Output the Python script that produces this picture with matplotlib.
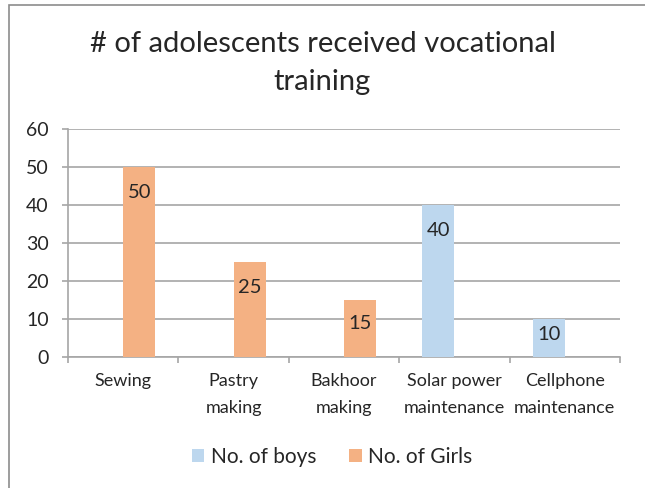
import matplotlib.pyplot as plt
import numpy as np
from matplotlib.patches import Rectangle

plt.rcParams['font.family'] = ['Lato', 'DejaVu Sans']

categories = ["Sewing", "Pastry\nmaking", "Bakhoor\nmaking",
              "Solar power\nmaintenance", "Cellphone\nmaintenance"]
boys = [0, 0, 0, 40, 10]
girls = [50, 25, 15, 0, 0]
series_names = ["No. of boys", "No. of Girls"]

boy_color = "#BDD7EE"
girl_color = "#F4B183"
grid_color = "#A6A6A6"
text_color = "#262626"

fig = plt.figure(figsize=(6.45, 4.88), dpi=100)
ax = fig.add_axes([0.1054, 0.2684, 0.8558, 0.4672])

x = np.arange(len(categories))
w = 0.29
bars_b = ax.bar(x - w / 2, boys, w, color=boy_color, zorder=3, label=series_names[0])
bars_g = ax.bar(x + w / 2, girls, w, color=girl_color, zorder=3, label=series_names[1])

# value labels just inside the top of each non-empty bar
for bars in (bars_b, bars_g):
    for b in bars:
        v = b.get_height()
        if v == 0:
            continue
        drop = min(6.8, v * 0.42)
        ax.text(b.get_x() + b.get_width() / 2, v - drop, f"{v:g}",
                ha="center", va="center", fontsize=14.5, color=text_color, zorder=4)

ax.set_xlim(-0.5, len(categories) - 0.5)
ax.set_ylim(0, 60)
ax.set_yticks(range(0, 61, 10))
ax.yaxis.grid(True, color=grid_color, linewidth=1.2, zorder=0)
ax.tick_params(axis="y", length=4.3, color=grid_color, width=1.2, labelsize=14,
               labelcolor=text_color, pad=9.5)

# category boundaries carry the tick marks, names sit between them
ax.set_xticks(np.arange(-0.5, len(categories), 1.0))
ax.set_xticklabels([])
ax.tick_params(axis="x", length=4.3, color=grid_color, width=1.2)
for i, name in enumerate(categories):
    ax.text(i, -4.3, name, ha="center", va="top", fontsize=13,
            color=text_color, linespacing=1.85)

for s in ("top", "right"):
    ax.spines[s].set_visible(False)
for s in ("left", "bottom"):
    ax.spines[s].set_color(grid_color)
    ax.spines[s].set_linewidth(1.2)

fig.text(0.5, 0.871, "# of adolescents received vocational\ntraining",
         ha="center", va="center", fontsize=21, color=text_color, linespacing=1.6)

fig.legend(handles=[bars_b, bars_g], labels=series_names, loc="center",
           bbox_to_anchor=(0.515, 0.064), ncol=2, frameon=False, fontsize=15,
           handlelength=0.6, handleheight=0.6, handletextpad=0.3, columnspacing=1.6,
           labelcolor=text_color)

# chart area border
fig.patches.append(Rectangle((9 / 645, -0.1), 1.2, (488 - 5) / 488 + 0.1,
                             transform=fig.transFigure, fill=False,
                             edgecolor="#8C8C8C", linewidth=1.2))

fig.savefig("out.png", dpi=100)
